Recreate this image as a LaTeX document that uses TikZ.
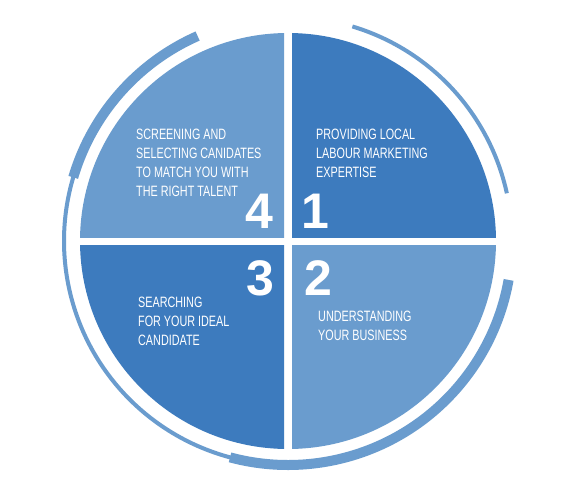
\documentclass[tikz,border=0pt]{standalone}
\usepackage{fontspec}
\setmainfont{Liberation Sans}
\newfontfamily\narrowfont{Liberation Sans}[FakeStretch=0.72]
\definecolor{darkblue}{RGB}{61,123,190}
\definecolor{lightblue}{RGB}{106,156,206}
\begin{document}
\begin{tikzpicture}[x=1pt,y=1pt,
  label/.style={anchor=north west,inner sep=0pt,align=left,text=white,font=\narrowfont\fontsize{15}{19}\selectfont},
  num/.style={anchor=base,inner sep=0pt,text=white,font=\bfseries\fontsize{50}{50}\selectfont},
  thinarc/.style={draw=lightblue,line width=4pt},
  thickarc/.style={draw=lightblue,line width=10pt}]
\useasboundingbox[fill=white] (0,0) rectangle (583,488);
\coordinate (C) at (288,247);
% quadrants
\begin{scope}\clip (292,251) rectangle (583,488); \fill[darkblue] (C) circle (208); \end{scope}
\begin{scope}\clip (292,243) rectangle (583,0); \fill[lightblue] (C) circle (208); \end{scope}
\begin{scope}\clip (284,243) rectangle (0,0); \fill[darkblue] (C) circle (208); \end{scope}
\begin{scope}\clip (284,251) rectangle (0,488); \fill[lightblue] (C) circle (208); \end{scope}
% outer arcs
\draw[thinarc] ([shift={(12.3:224)}]C) arc[start angle=12.3,end angle=73.3,radius=224];
\draw[thinarc] ([shift={(160:224)}]C) arc[start angle=160,end angle=258,radius=224];
\draw[thickarc] ([shift={(113.8:224)}]C) arc[start angle=113.8,end angle=163.5,radius=224];
\draw[thickarc] ([shift={(255:224)}]C) arc[start angle=255,end angle=350,radius=224];
% texts
\node[label] (t4) at (136,359) {SCREENING AND\\SELECTING CANIDATES\\TO MATCH YOU WITH\\THE RIGHT TALENT};
\node[label] (t1) at (316,359) {PROVIDING LOCAL\\LABOUR MARKETING\\EXPERTISE};
\node[label] (t3) at (138,191) {SEARCHING\\FOR YOUR IDEAL\\CANDIDATE};
\node[label] (t2) at (318,177.3) {UNDERSTANDING\\YOUR BUSINESS};
% numbers
\node[num] (n4) at (259.5,260) {4};
\node[num] (n1) at (315.4,260) {1};
\node[num] (n3) at (260,193) {3};
\node[num] (n2) at (318.5,193) {2};
\end{tikzpicture}
\end{document}
